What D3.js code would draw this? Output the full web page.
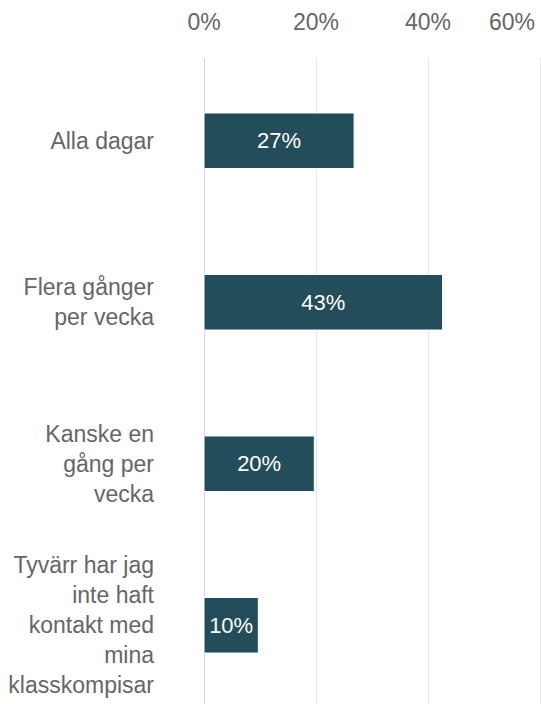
<!DOCTYPE html>
<html>
<head>
<meta charset="utf-8">
<script src="https://cdn.jsdelivr.net/npm/d3@7"></script>
<style>
  body { margin: 0; background: #fff; }
  svg { display: block; font-family: "Liberation Sans", Arial, sans-serif; }
</style>
</head>
<body>
<div id="chart"></div>
<script>
const width = 541;
const height = 704;

const categories = [
    ['Alla dagar'],
    ['Flera gånger', 'per vecka'],
    ['Kanske en', 'gång per', 'vecka'],
    ['Tyvärr har jag', 'inte haft', 'kontakt med', 'mina', 'klasskompisar']
];
const values = [26.8, 42.6, 19.7, 9.7];
const ticks = [0, 20, 40, 60];

const svg = d3.select('#chart')
    .append('svg')
    .attr('width', width)
    .attr('height', height);

const xScale = d3.scaleLinear()
    .domain([0, 60])
    .range([204, 540]);

const yScale = d3.scaleBand()
    .domain(d3.range(categories.length))
    .range([60, 706])
    .paddingInner(0.656)
    .paddingOuter(0.328);

// grid lines
svg.append('g')
    .selectAll('line')
    .data(ticks)
    .enter()
    .append('line')
    .attr('x1', d => Math.round(xScale(d)) + 0.5)
    .attr('x2', d => Math.round(xScale(d)) + 0.5)
    .attr('y1', 58)
    .attr('y2', height)
    .attr('stroke', d => d === 0 ? '#ccd6eb' : '#e6e6e6')
    .attr('stroke-width', 1);

// tick labels on top
const tickLabels = svg.append('g')
    .selectAll('text')
    .data(ticks)
    .enter()
    .append('text')
    .attr('x', d => xScale(d))
    .attr('y', 30)
    .attr('text-anchor', 'middle')
    .attr('fill', '#666666')
    .style('font-size', '23px')
    .text(d => d + '%');

// keep the last label inside the picture
tickLabels.each(function(d) {
    const w = this.getComputedTextLength();
    const x = xScale(d);
    if (x + w / 2 > width - 6) {
        d3.select(this).attr('x', width - 6 - w / 2);
    }
});

// bars
svg.append('g')
    .selectAll('rect')
    .data(values)
    .enter()
    .append('rect')
    .attr('x', xScale(0))
    .attr('y', (d, i) => yScale(i))
    .attr('width', d => xScale(d) - xScale(0))
    .attr('height', yScale.bandwidth())
    .attr('fill', '#234d5a')
    .attr('stroke', '#ffffff')
    .attr('stroke-width', 1);

// value labels
svg.append('g')
    .selectAll('text')
    .data(values)
    .enter()
    .append('text')
    .attr('x', d => (xScale(0) + xScale(d)) / 2)
    .attr('y', (d, i) => yScale(i) + yScale.bandwidth() / 2)
    .attr('dy', '0.35em')
    .attr('text-anchor', 'middle')
    .attr('fill', '#ffffff')
    .style('font-size', '22px')
    .text(d => Math.round(d) + '%');

// category labels
const lineHeight = 30;
const catLabels = svg.append('g')
    .selectAll('text')
    .data(categories)
    .enter()
    .append('text')
    .attr('text-anchor', 'end')
    .attr('fill', '#666666')
    .style('font-size', '23px');

catLabels.each(function(lines, i) {
    const cy = yScale(i) + yScale.bandwidth() / 2;
    const top = cy - (lines.length - 1) * lineHeight / 2;
    d3.select(this)
        .selectAll('tspan')
        .data(lines)
        .enter()
        .append('tspan')
        .attr('x', 154)
        .attr('y', (d, j) => top + j * lineHeight)
        .attr('dy', '0.35em')
        .text(d => d);
});
</script>
</body>
</html>
